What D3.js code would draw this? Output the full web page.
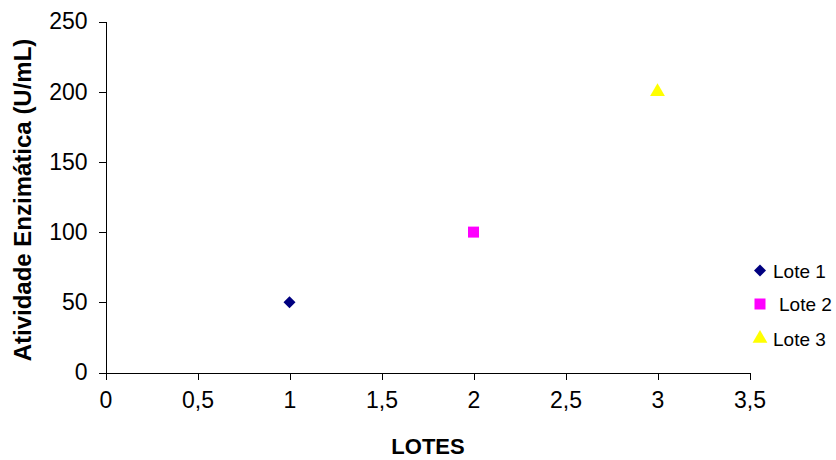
<!DOCTYPE html>
<html><head><meta charset="utf-8">
<script src="https://cdn.jsdelivr.net/npm/d3@7"></script>
<style>html,body{margin:0;padding:0;background:#fff;}svg{display:block;font-family:"Liberation Sans",Arial,sans-serif;}</style>
</head><body>
<svg id="chart" width="836" height="460"></svg>
<script>
const seriesNames = ["Lote 1", "Lote 2", "Lote 3"];
const lotValues = [1, 2, 3];
const activityValues = [50, 100, 200];
const seriesColors = ["#000080", "#FF00FF", "#FFFF00"];
const seriesShapes = ["diamond", "square", "triangle"];
const xTickValues = [0, 0.5, 1, 1.5, 2, 2.5, 3, 3.5];
const yTickValues = [0, 50, 100, 150, 200, 250];
const xTitle = "LOTES";
const yTitle = "Atividade Enzimática (U/mL)";

const svg = d3.select("#chart");
const x = d3.scaleLinear().domain([0, 3.5]).range([105.5, 749.5]);
const y = d3.scaleLinear().domain([0, 250]).range([372.5, 21.5]);
const fmt = d => String(d).replace(".", ",");

const xAxis = svg.append("g").attr("transform", "translate(0,372.5)")
  .call(d3.axisBottom(x).tickValues(xTickValues).tickFormat(fmt).tickSize(7).tickSizeOuter(0).tickPadding(12));
const yAxis = svg.append("g").attr("transform", "translate(105.5,0)")
  .call(d3.axisLeft(y).tickValues(yTickValues).tickFormat(fmt).tickSize(7).tickSizeOuter(0).tickPadding(11));
[xAxis, yAxis].forEach(g => {
  g.selectAll("path, line").attr("stroke", "#000").attr("stroke-width", 1).attr("shape-rendering", "crispEdges");
  g.selectAll("text").attr("font-family", "Liberation Sans, Arial, sans-serif").attr("font-size", 23).attr("fill", "#000");
});

function symbolFor(shape, size) {
  const t = shape === "diamond" ? d3.symbolSquare : shape === "square" ? d3.symbolSquare : d3.symbolTriangle;
  return d3.symbol().type(t).size(size)();
}
const sizes = {diamond: 72, square: 121, triangle: 95};
const rot = {diamond: 45, square: 0, triangle: 0};

svg.append("g").selectAll("path").data(lotValues).join("path")
  .attr("d", (d, i) => symbolFor(seriesShapes[i], sizes[seriesShapes[i]]))
  .attr("transform", (d, i) => `translate(${x(d)},${y(activityValues[i])}) rotate(${rot[seriesShapes[i]]})`)
  .attr("fill", (d, i) => seriesColors[i]);

// axis titles
svg.append("text").attr("x", 428).attr("y", 454).attr("text-anchor", "middle")
  .attr("font-weight", "bold").attr("font-size", 22).text(xTitle);
svg.append("text").attr("transform", "translate(31,200) rotate(-90)").attr("text-anchor", "middle")
  .attr("font-weight", "bold").attr("font-size", 24).text(yTitle);

// legend
const legendY = [270.5, 304, 338.5];
const legendTextX = [773, 779, 773];
const leg = svg.append("g");
seriesNames.forEach((name, i) => {
  leg.append("path").attr("d", symbolFor(seriesShapes[i], sizes[seriesShapes[i]]))
    .attr("transform", `translate(760,${legendY[i]}) rotate(${rot[seriesShapes[i]]})`).attr("fill", seriesColors[i]);
  leg.append("text").attr("x", legendTextX[i]).attr("y", legendY[i] + 7)
    .attr("font-size", 19).text(name);
});
</script>
</body></html>
